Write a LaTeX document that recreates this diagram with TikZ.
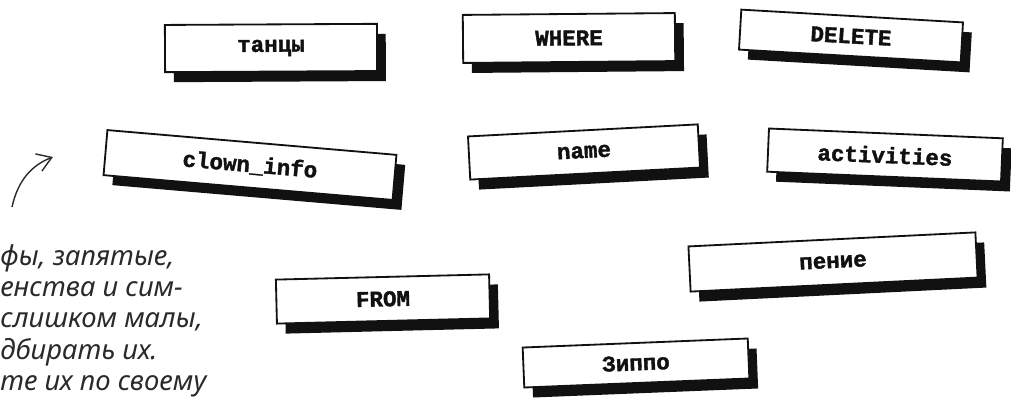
\documentclass[tikz,border=0pt]{standalone}
\usepackage{fontspec}
\setmainfont{Liberation Serif}
\newfontfamily\cardfont{Liberation Mono}[BoldFeatures={FakeBold=1.6}]
\newfontfamily\handfont{Noto Sans}
\usetikzlibrary{arrows.meta,shadows}
\definecolor{cardink}{HTML}{111111}
\definecolor{handink}{HTML}{2A2A2A}

\begin{document}
\begin{tikzpicture}[
  x=0.025cm,
  y=-0.025cm,
  every node/.style={cardink},
  card/.style={draw=cardink, fill=white, line width=1.3pt, inner sep=0pt,
    font=\cardfont\bfseries\fontsize{16}{18}\selectfont,
    drop shadow={shadow xshift=0.22cm, shadow yshift=-0.25cm,
      fill=cardink, opacity=1}},
  note/.style={handink, align=left, inner sep=0pt,
    font=\handfont\itshape\fontsize{19.5}{22.3}\selectfont},
  pointer/.style={handink, line width=1pt,
    -{Straight Barb[length=10pt, width=13pt]}}
]
  % ---- page frame, in pixels of the scan
  \useasboundingbox (0,0) rectangle (1011,399);

  % ---- top row of cards ------------------------------------------------
  \node[card, minimum width=5.30cm, minimum height=1.18cm, rotate=0.3]
    (dances) at (271,48) {танцы};
  \node[card, minimum width=5.30cm, minimum height=1.20cm, rotate=0.5]
    (where) at (569,38) {WHERE};
  \node[card, minimum width=5.55cm, minimum height=1.00cm, rotate=-3.3]
    (delete) at (851,36) {DELETE};

  % ---- middle row ------------------------------------------------------
  \node[card, minimum width=7.25cm, minimum height=1.13cm, rotate=-4.9]
    (table) at (250,165) {clown\_info};
  \node[card, minimum width=5.75cm, minimum height=1.08cm, rotate=3.0]
    (name) at (584,152) {name};
  \node[card, minimum width=5.85cm, minimum height=1.08cm, rotate=-2.4]
    (activities) at (885,155) {activities};

  % ---- lower cards -----------------------------------------------------
  \node[card, minimum width=7.18cm, minimum height=1.13cm, rotate=2.8]
    (singing) at (833,262) {пение};
  \node[card, minimum width=5.33cm, minimum height=1.10cm, rotate=1.4]
    (from) at (383,299) {FROM};
  \node[card, minimum width=5.63cm, minimum height=1.00cm, rotate=2.3]
    (zippo) at (636,363) {Зиппо};

  % ---- handwritten remark, cut by the page edge ------------------------
  \node[note, anchor=north west] (remark) at (0,244)
    {фы, запятые,\\енства и сим-\\слишком малы,\\дбирать их.\\те их по своему};

  % ---- pointer from the remark up to the cards -------------------------
  \coordinate (tail) at (12,207);
  \coordinate (tip) at (53,157);
  \draw[pointer] (tail) .. controls (18,180) and (32,165) .. (tip);
\end{tikzpicture}
\end{document}
